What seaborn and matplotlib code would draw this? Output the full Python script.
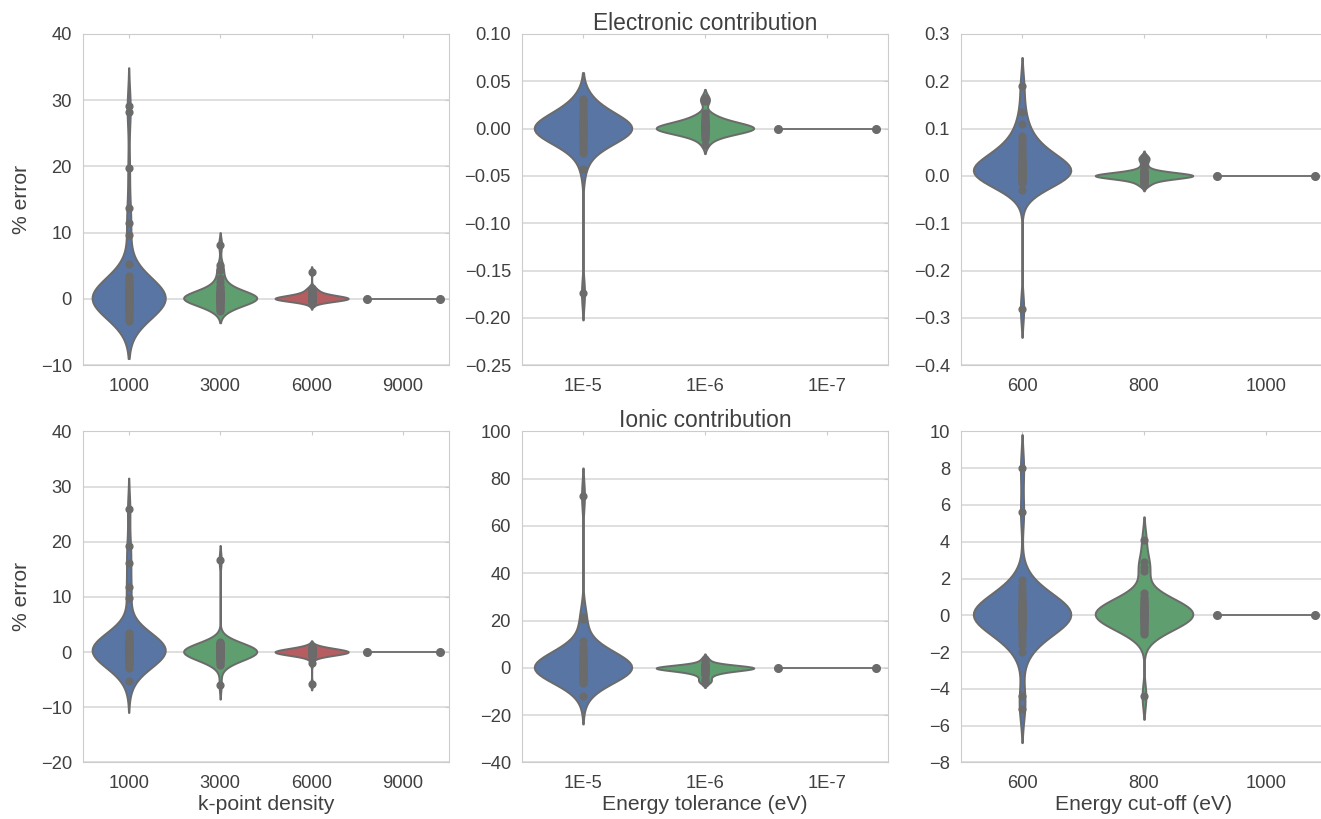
import matplotlib
matplotlib.use("Agg")
import matplotlib.pyplot as plt
import matplotlib.ticker as mticker
import pandas as pd
import seaborn as sns

# % error values, one list per (panel, setting)
kpoint_labels = ["1000", "3000", "6000", "9000"]
tolerance_labels = ["1E-5", "1E-6", "1E-7"]
cutoff_labels = ["600", "800", "1000"]

# electronic contribution
kp_el_1000 = [29.2, 28.2, 19.7, 13.8, 11.5, 9.7, 5.3, 3.5, 3.0, 2.6, 2.2, 1.9, 1.6, 1.4, 1.2,
              1.0, 0.9, 0.8, 0.7, 0.6, 0.5, 0.45, 0.4, 0.35, 0.3, 0.25, 0.2, 0.15, 0.1, 0.08,
              0.05, 0.03, 0.0, 0.0, 0.0, 0.0, -0.03, -0.05, -0.08, -0.1, -0.15, -0.2, -0.25,
              -0.3, -0.35, -0.4, -0.5, -0.6, -0.7, -0.8, -1.0, -1.2, -1.5, -1.9, -2.4, -2.9,
              -3.3]
kp_el_3000 = [8.2, 5.1, 4.3, 3.2, 2.6, 2.0, 1.7, 1.4, 1.2, 1.0, 0.9, 0.8, 0.7, 0.6, 0.5,
              0.4, 0.35, 0.3, 0.25, 0.2, 0.15, 0.1, 0.05, 0.0, 0.0, 0.0, -0.05, -0.1, -0.15,
              -0.2, -0.3, -0.4, -0.5, -0.7, -0.9, -1.1, -1.3, -1.5, -1.8]
kp_el_6000 = [4.1, 1.7, 1.5, 1.3, 1.1, 0.9, 0.8, 0.7, 0.6, 0.5, 0.45, 0.4, 0.35, 0.3, 0.25,
              0.2, 0.18, 0.15, 0.12, 0.1, 0.08, 0.06, 0.04, 0.02, 0.0, 0.0, 0.0, 0.0, -0.02,
              -0.04, -0.06, -0.08, -0.1, -0.12, -0.15, -0.2, -0.25, -0.3, -0.5, -0.8]
kp_el_9000 = [0.0, 0.0, 0.0, 0.0, 0.0]

tol_el_1e5 = [0.031, 0.029, 0.026, 0.022, 0.018, 0.015, 0.012, 0.010, 0.008, 0.007, 0.006,
              0.005, 0.004, 0.0035, 0.003, 0.0025, 0.002, 0.0015, 0.001, 0.0005, 0.0, 0.0,
              0.0, 0.0, -0.0005, -0.001, -0.0015, -0.002, -0.0025, -0.003, -0.004, -0.005,
              -0.006, -0.007, -0.008, -0.010, -0.012, -0.015, -0.018, -0.022, -0.026,
              -0.043, -0.174]
tol_el_1e6 = [0.032, 0.029, 0.016, 0.013, 0.011, 0.009, 0.008, 0.007, 0.006, 0.005, 0.004,
              0.0035, 0.003, 0.0025, 0.002, 0.0015, 0.001, 0.0005, 0.0, 0.0, 0.0, 0.0,
              -0.0005, -0.001, -0.0015, -0.002, -0.0025, -0.003, -0.004, -0.005, -0.006,
              -0.007, -0.009, -0.011, -0.017]
tol_el_1e7 = [0.0, 0.0, 0.0, 0.0, 0.0]

cut_el_600 = [0.19, 0.135, 0.11, 0.085, 0.078, 0.07, 0.063, 0.056, 0.05, 0.045, 0.04, 0.036,
              0.032, 0.028, 0.025, 0.022, 0.02, 0.018, 0.016, 0.014, 0.012, 0.011, 0.01,
              0.009, 0.008, 0.007, 0.006, 0.005, 0.004, 0.003, 0.002, 0.001, 0.0, 0.0, 0.0,
              -0.002, -0.004, -0.007, -0.01, -0.014, -0.029, -0.281]
cut_el_800 = [0.041, 0.038, 0.035, 0.03, 0.022, 0.016, 0.012, 0.01, 0.008, 0.007, 0.006,
              0.005, 0.0045, 0.004, 0.0035, 0.003, 0.0025, 0.002, 0.0018, 0.0015, 0.0012,
              0.001, 0.0008, 0.0005, 0.0003, 0.0, 0.0, 0.0, 0.0, 0.0, -0.0003, -0.0005,
              -0.0008, -0.001, -0.0012, -0.0015, -0.002, -0.0025, -0.003, -0.004, -0.005,
              -0.006, -0.008, -0.01, -0.012, -0.015, -0.018, -0.02]
cut_el_1000 = [0.0, 0.0, 0.0, 0.0, 0.0]

# ionic contribution
kp_ion_1000 = [25.9, 19.2, 16.2, 11.8, 9.8, 3.4, 3.0, 2.7, 2.4, 2.1, 1.9, 1.7, 1.5, 1.3, 1.2,
               1.0, 0.9, 0.8, 0.7, 0.6, 0.5, 0.4, 0.3, 0.2, 0.1, 0.05, 0.0, 0.0, -0.05, -0.1,
               -0.2, -0.3, -0.4, -0.6, -0.8, -1.0, -1.3, -1.6, -2.0, -2.4, -2.9, -5.3]
kp_ion_3000 = [16.7, 1.9, 1.7, 1.5, 1.35, 1.2, 1.1, 1.0, 0.9, 0.8, 0.7, 0.6, 0.55, 0.5, 0.45,
               0.4, 0.35, 0.3, 0.25, 0.2, 0.15, 0.1, 0.05, 0.0, 0.0, 0.0, -0.05, -0.1, -0.15,
               -0.2, -0.25, -0.3, -0.4, -0.5, -0.6, -0.7, -0.8, -0.9, -1.0, -1.2, -1.4, -1.6,
               -1.9, -2.3, -5.9]
kp_ion_6000 = [1.0, 0.8, 0.7, 0.6, 0.5, 0.45, 0.4, 0.35, 0.3, 0.25, 0.2, 0.15, 0.12, 0.1,
               0.08, 0.05, 0.03, 0.0, 0.0, 0.0, 0.0, -0.03, -0.05, -0.08, -0.1, -0.12, -0.15,
               -0.2, -0.25, -0.3, -0.35, -0.4, -0.5, -0.6, -0.8, -2.0, -5.8]
kp_ion_9000 = [0.0, 0.0, 0.0, 0.0, 0.0]

tol_ion_1e5 = [72.8, 21.3, 20.8, 11.5, 9.0, 7.5, 6.5, 5.5, 4.8, 4.2, 3.6, 3.0, 2.5, 2.0, 1.6,
               1.2, 0.9, 0.7, 0.6, 0.4, 0.3, 0.2, 0.1, 0.0, 0.0, 0.0, -0.1, -0.2, -0.3, -0.4,
               -0.6, -0.9, -1.2, -1.6, -2.0, -2.5, -3.0, -3.6, -4.2, -4.8, -5.5, -6.2, -12.0]
tol_ion_1e6 = [3.8, 2.5, 1.5, 1.0, 0.8, 0.6, 0.4, 0.3, 0.2, 0.1, 0.05, 0.0, 0.0, 0.0, 0.0,
               -0.05, -0.1, -0.2, -0.3, -0.4, -0.6, -0.8, -1.0, -1.3, -1.6, -2.0, -2.5, -3.2,
               -4.5, -5.5, -6.2]
tol_ion_1e7 = [0.0, 0.0, 0.0, 0.0, 0.0]

cut_ion_600 = [8.0, 5.6, 1.9, 1.6, 1.4, 1.2, 1.0, 0.9, 0.8, 0.7, 0.6, 0.5, 0.45, 0.4, 0.35,
               0.3, 0.25, 0.2, 0.15, 0.1, 0.05, 0.02, 0.0, 0.0, 0.0, -0.02, -0.05, -0.1,
               -0.15, -0.2, -0.25, -0.3, -0.35, -0.4, -0.5, -0.6, -0.7, -0.8, -1.0, -1.2,
               -1.4, -1.6, -2.0, -4.4, -5.1]
cut_ion_800 = [4.1, 2.9, 2.6, 2.4, 1.2, 1.0, 0.9, 0.8, 0.7, 0.6, 0.55, 0.5, 0.45, 0.4, 0.35,
               0.3, 0.25, 0.2, 0.15, 0.1, 0.05, 0.0, 0.0, 0.0, -0.05, -0.1, -0.15, -0.2,
               -0.25, -0.3, -0.35, -0.4, -0.5, -0.6, -0.7, -0.8, -0.9, -1.0, -4.4]
cut_ion_1000 = [0.0, 0.0, 0.0, 0.0, 0.0]

panels = [
    # (categories, groups, ylim, tick step, title, xlabel)
    (kpoint_labels, [kp_el_1000, kp_el_3000, kp_el_6000, kp_el_9000], (-10, 40), 10, "", ""),
    (tolerance_labels, [tol_el_1e5, tol_el_1e6, tol_el_1e7], (-0.25, 0.10), 0.05,
     "Electronic contribution", ""),
    (cutoff_labels, [cut_el_600, cut_el_800, cut_el_1000], (-0.4, 0.3), 0.1, "", ""),
    (kpoint_labels, [kp_ion_1000, kp_ion_3000, kp_ion_6000, kp_ion_9000], (-20, 40), 10,
     "", "k-point density"),
    (tolerance_labels, [tol_ion_1e5, tol_ion_1e6, tol_ion_1e7], (-40, 100), 20,
     "Ionic contribution", "Energy tolerance (eV)"),
    (cutoff_labels, [cut_ion_600, cut_ion_800, cut_ion_1000], (-8, 10), 2,
     "", "Energy cut-off (eV)"),
]

sns.set_style("whitegrid", {"grid.color": ".85", "axes.edgecolor": ".8"})
plt.rcParams["font.family"] = ["Liberation Sans", "DejaVu Sans"]
text_col = "#404040"
plt.rcParams["text.color"] = text_col
plt.rcParams["axes.labelcolor"] = text_col
plt.rcParams["xtick.color"] = text_col
plt.rcParams["ytick.color"] = text_col

colors = sns.color_palette("deep6")[:3]
gray = "#6b6b6b"

fig, axes = plt.subplots(2, 3, figsize=(13.21, 8.19), dpi=100)
fig.subplots_adjust(left=0.0628, right=1.0045, top=0.9585, bottom=0.069,
                    wspace=0.2, hspace=0.2)

for ax, (cats, groups, ylim, step, title, xlabel) in zip(axes.flat, panels):
    rows = []
    flat = []
    for cat, vals in zip(cats, groups):
        if len(set(vals)) > 1:
            rows += [(cat, v) for v in vals]
        else:
            flat.append((cats.index(cat), vals[0]))
    df = pd.DataFrame(rows, columns=["setting", "error"])
    present = list(dict.fromkeys(df["setting"]))
    sns.violinplot(data=df, x="setting", y="error", order=cats, hue="setting",
                   hue_order=present, palette=colors[:len(present)], legend=False,
                   density_norm="width", inner="point", linecolor=gray, linewidth=1.4,
                   inner_kws=dict(s=24), width=0.8, ax=ax)
    # settings where every value is identical: drawn as a flat line
    for pos, val in flat:
        ax.plot([pos - 0.4, pos + 0.4], [val, val], color=gray, lw=1.3,
                marker="o", ms=5.5, zorder=3)

    ax.set_xlim(-0.5, len(cats) - 0.5)
    ax.set_ylim(*ylim)
    ax.yaxis.set_major_locator(mticker.MultipleLocator(step))
    ax.tick_params(axis="both", labelsize=13.2, length=3, direction="in",
                   color=".8", top=True, right=True)
    ax.tick_params(axis="y", pad=8)
    ax.tick_params(axis="x", pad=9)
    ax.xaxis.grid(False)
    ax.yaxis.grid(True, linewidth=1.2)
    for s in ax.spines.values():
        s.set_color(".8")
    ax.set_xlabel(xlabel, fontsize=15.2, labelpad=2)
    ax.set_ylabel("")
    if title:
        ax.set_title(title, fontsize=16.4, pad=3)

for ax in axes[:, 0]:
    ax.set_ylabel("% error", fontsize=15.2, labelpad=7)

fig.savefig("out.png", dpi=100)
